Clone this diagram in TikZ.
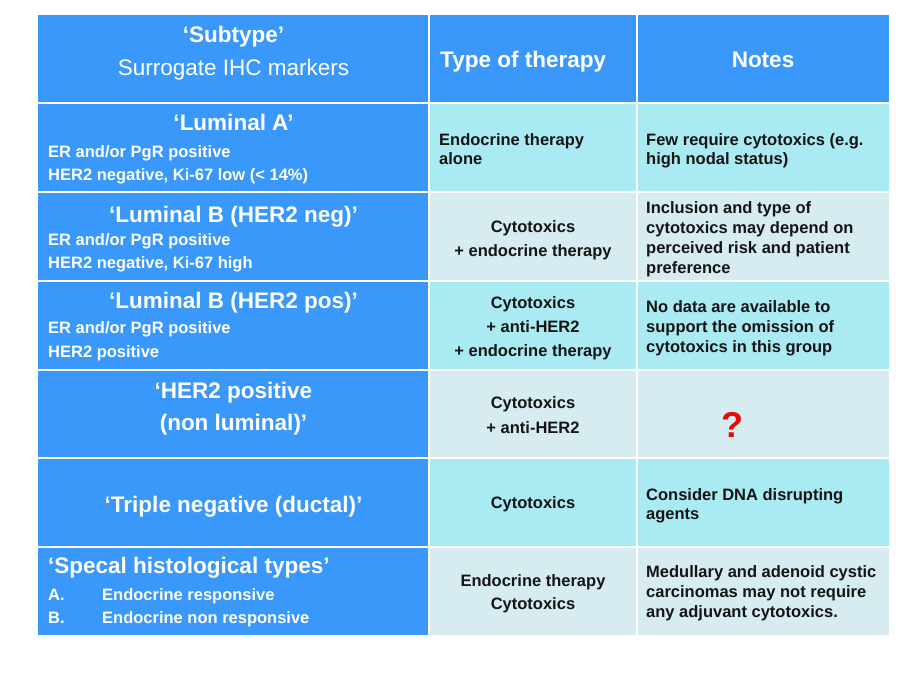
\documentclass[tikz,border=0pt]{standalone}
\usepackage{fontspec}
\setmainfont{Liberation Sans}
\usepackage{tikz}

\definecolor{hdrblue}{RGB}{57,152,250}
\definecolor{cyanrow}{RGB}{170,234,243}
\definecolor{palerow}{RGB}{214,236,240}
\definecolor{qred}{RGB}{230,10,10}

\tikzset{
  ttl/.style={font=\bfseries\fontsize{22.5}{27}\selectfont, text=white, inner sep=0pt},
  ttlreg/.style={font=\fontsize{22.5}{27}\selectfont, text=white, inner sep=0pt},
  marker/.style={font=\bfseries\fontsize{16.5}{20}\selectfont, text=white, inner sep=0pt},
  body/.style={font=\bfseries\fontsize{16.5}{20}\selectfont, text=black!92, inner sep=0pt}
}

\begin{document}
\begin{tikzpicture}[x=1pt,y=-1pt]
\useasboundingbox (0,0) rectangle (920,690);
% cells
\fill[hdrblue] (38,15) rectangle (889,103);
\fill[hdrblue] (38,103) rectangle (429,635);
\foreach \ya/\yb/\c in {103/192/cyanrow,192/281/palerow,281/370/cyanrow,370/458/palerow,458/547/cyanrow,547/635/palerow}
  \fill[\c] (429,\ya) rectangle (889,\yb);
% white rules
\foreach \x in {429,637}
  \draw[white,line width=1.5pt] (\x,15) -- (\x,635);
\foreach \y in {103,192,281,370,458,547}
  \draw[white,line width=1.5pt] (38,\y) -- (889,\y);

% header
\node[ttl,anchor=base] (subtype) at (233.5,43) {‘Subtype’};
\node[ttlreg,anchor=base] (surrogate) at (233.5,76) {Surrogate IHC markers};
\node[ttl,anchor=base west] (therapyhd) at (440,68) {Type of therapy};
\node[ttl,anchor=base] (noteshd) at (763,68) {Notes};

% luminal A
\node[ttl,anchor=base] (luma) at (233.5,131) {‘Luminal A’};
\node[marker,anchor=base west] (luma1) at (48,157) {ER and/or PgR positive};
\node[marker,anchor=base west] (luma2) at (48,180) {HER2 negative, Ki-67 low (< 14\%)};
\node[body,anchor=base west] (lumat1) at (439,145) {Endocrine therapy};
\node[body,anchor=base west] (lumat2) at (439,164) {alone};
\node[body,anchor=base west] (luman1) at (646,145) {Few require cytotoxics (e.g.};
\node[body,anchor=base west] (luman2) at (646,164) {high nodal status)};

% luminal B neg
\node[ttl,anchor=base] (lumbn) at (233.5,222) {‘Luminal B (HER2 neg)’};
\node[marker,anchor=base west] (lumbn1) at (48,245) {ER and/or PgR positive};
\node[marker,anchor=base west] (lumbn2) at (48,268) {HER2 negative, Ki-67 high};
\node[body,anchor=base] (lumbnt1) at (533,232) {Cytotoxics};
\node[body,anchor=base] (lumbnt2) at (533,256) {+ endocrine therapy};
\node[body,anchor=base west] (lumbnn1) at (646,213) {Inclusion and type of};
\node[body,anchor=base west] (lumbnn2) at (646,233) {cytotoxics may depend on};
\node[body,anchor=base west] (lumbnn3) at (646,253) {perceived risk and patient};
\node[body,anchor=base west] (lumbnn4) at (646,273) {preference};

% luminal B pos
\node[ttl,anchor=base] (lumbp) at (233.5,308) {‘Luminal B (HER2 pos)’};
\node[marker,anchor=base west] (lumbp1) at (48,333) {ER and/or PgR positive};
\node[marker,anchor=base west] (lumbp2) at (48,357) {HER2 positive};
\node[body,anchor=base] (lumbpt1) at (533,308) {Cytotoxics};
\node[body,anchor=base] (lumbpt2) at (533,332) {+ anti-HER2};
\node[body,anchor=base] (lumbpt3) at (533,356) {+ endocrine therapy};
\node[body,anchor=base west] (lumbpn1) at (646,312) {No data are available to};
\node[body,anchor=base west] (lumbpn2) at (646,332) {support the omission of};
\node[body,anchor=base west] (lumbpn3) at (646,352) {cytotoxics in this group};

% HER2 positive
\node[ttl,anchor=base] (hertwo) at (233.5,398) {‘HER2 positive};
\node[ttl,anchor=base] (hertwob) at (233.5,430) {(non luminal)’};
\node[body,anchor=base] (hertwot1) at (533,408) {Cytotoxics};
\node[body,anchor=base] (hertwot2) at (533,433) {+ anti-HER2};
\node[font=\bfseries\fontsize{36}{40}\selectfont,text=qred,inner sep=0pt,anchor=base] (query) at (732,437) {?};

% triple negative
\node[ttl,anchor=base] (triple) at (233.5,512) {‘Triple negative (ductal)’};
\node[body,anchor=base] (triplet) at (533,508) {Cytotoxics};
\node[body,anchor=base west] (triplen1) at (646,500) {Consider DNA disrupting};
\node[body,anchor=base west] (triplen2) at (646,519) {agents};

% special types
\node[ttl,anchor=base west] (special) at (48,573) {‘Specal histological types’};
\node[marker,anchor=base west] (speciala) at (48,600) {A.};
\node[marker,anchor=base west] (specialat) at (102,600) {Endocrine responsive};
\node[marker,anchor=base west] (specialb) at (48,623) {B.};
\node[marker,anchor=base west] (specialbt) at (102,623) {Endocrine non responsive};
\node[body,anchor=base] (specialt1) at (533,586) {Endocrine therapy};
\node[body,anchor=base] (specialt2) at (533,609) {Cytotoxics};
\node[body,anchor=base west] (specialn1) at (646,577) {Medullary and adenoid cystic};
\node[body,anchor=base west] (specialn2) at (646,597) {carcinomas may not require};
\node[body,anchor=base west] (specialn3) at (646,617) {any adjuvant cytotoxics.};
\end{tikzpicture}
\end{document}
